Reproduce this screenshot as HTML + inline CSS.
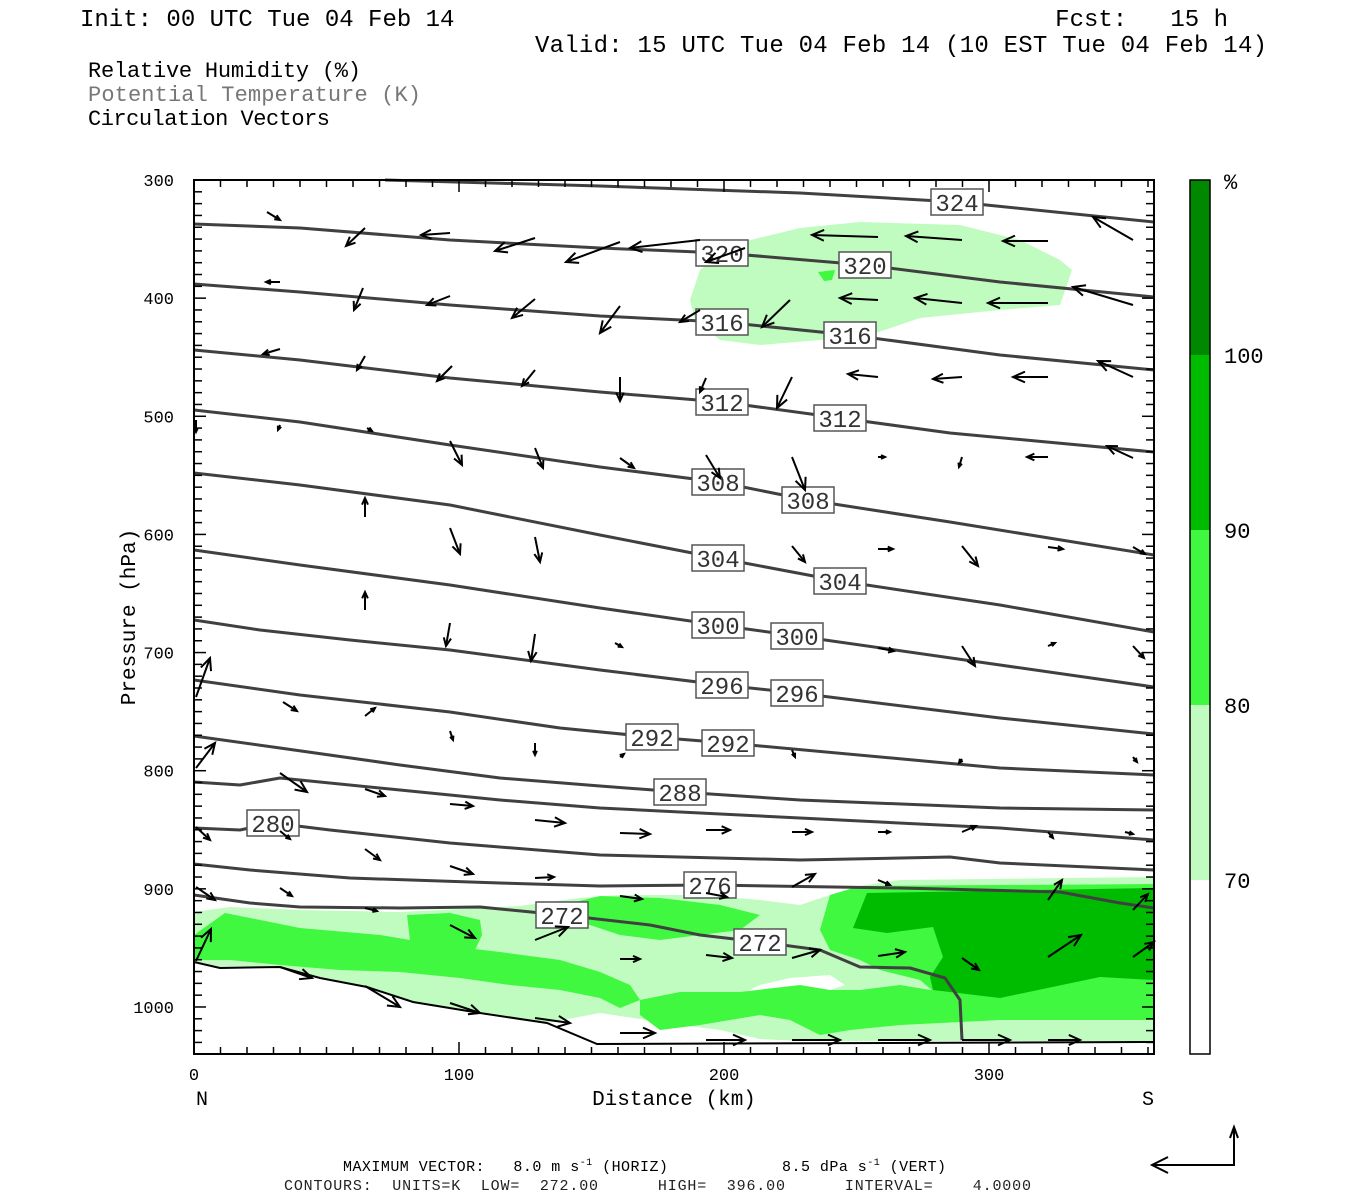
<!DOCTYPE html>
<html><head><meta charset="utf-8"><style>
html,body{margin:0;padding:0;background:#fff}
svg{display:block}
text{font-family:"Liberation Mono",monospace}
</style></head><body>
<svg id="s" width="1350" height="1200" viewBox="0 0 1350 1200" xmlns="http://www.w3.org/2000/svg">
<rect width="1350" height="1200" fill="#fff"/>
<text x="80" y="26" font-size="24" fill="#000">Init: 00 UTC Tue 04 Feb 14</text>
<text x="1228" y="26" font-size="24" fill="#000" text-anchor="end" xml:space="preserve">Fcst:   15 h</text>
<text x="535" y="52" font-size="24" fill="#000" textLength="732">Valid: 15 UTC Tue 04 Feb 14 (10 EST Tue 04 Feb 14)</text>
<text x="88" y="77" font-size="22" fill="#000" textLength="273">Relative Humidity (%)</text>
<text x="88" y="101" font-size="22" fill="#777" textLength="333">Potential Temperature (K)</text>
<text x="88" y="125" font-size="22" fill="#000" textLength="242">Circulation Vectors</text>

<g id="shade">
<polygon fill="#c0fcc0" points="690,300 700,270 730,245 800,228 860,222 960,225 1020,240 1060,260 1072,270 1060,305 1000,310 920,318 870,335 820,340 760,345 720,340 695,320"/>
<polygon fill="#40f840" points="818,272 835,270 832,280 824,281"/>
<polygon fill="#c0fcc0" points="194,912 230,907 300,910 400,912 480,908 520,906 580,898 620,895 700,895 760,900 800,905 830,895 860,886 900,880 1154,877 1154,1041 800,1041 760,1039 720,1030 660,1022 600,1013 547,1023 480,1012 413,1001 367,986 320,977 280,966 220,967 194,961"/>
<polygon fill="#fff" points="760,985 790,978 830,975 845,985 830,990 820,1005 800,1000 775,995 745,992"/>
<polygon fill="#40f840" points="194,935 225,913 250,918 300,928 380,935 440,945 500,952 560,960 600,972 630,985 640,1000 620,1008 600,998 560,990 510,985 460,978 400,972 340,970 280,965 230,960 194,960"/>
<polygon fill="#40f840" points="407,915 450,913 480,920 482,935 475,950 440,950 410,940"/>
<polygon fill="#40f840" points="563,905 600,896 660,898 720,905 760,915 740,930 700,935 660,940 620,935 590,925 563,915"/>
<polygon fill="#40f840" points="640,1000 680,992 740,992 800,985 830,990 860,990 900,985 930,990 1000,995 1154,995 1154,1020 1000,1020 900,1025 850,1030 820,1035 790,1020 760,1015 700,1025 660,1030 640,1015"/>
<polygon fill="#40f840" points="830,895 860,886 1154,884 1154,1000 1000,1000 940,997 920,980 880,970 860,960 830,950 820,930"/>
<polygon fill="#00bc00" points="867,893 1154,888 1154,980 1100,977 1000,998 933,990 930,977 943,957 933,927 887,933 853,928"/>
</g>

<g fill="none" stroke="#404040" stroke-width="3" stroke-linejoin="round">
<polyline points="385,180 600,186 800,193 957,202 1154,222"/>
<polyline points="194,224 300,228 450,240 600,248 722,253 865,265 1000,282 1154,297"/>
<polyline points="194,284 300,292 450,305 600,316 722,322 850,335 1000,355 1154,370"/>
<polyline points="194,350 300,360 450,378 600,392 722,402 840,418 950,433 1154,452"/>
<polyline points="194,410 300,422 450,445 600,467 718,482 808,500 950,522 1154,555"/>
<polyline points="194,473 300,485 450,505 600,535 718,558 840,581 1000,605 1154,632"/>
<polyline points="194,550 300,565 450,585 600,608 718,625 797,636 1000,665 1154,687"/>
<polyline points="194,620 260,630 350,640 450,650 600,670 722,685 797,693 1000,718 1154,734"/>
<polyline points="194,680 300,695 450,712 560,728 652,737 728,743 1000,768 1154,775"/>
<polyline points="194,736 280,748 400,765 500,778 600,786 680,792 800,800 1000,808 1154,810"/>
<polyline points="194,782 240,785 280,778 400,790 500,800 600,808 800,818 1000,828 1154,840"/>
<polyline points="194,828 240,830 273,823 330,830 450,843 600,855 800,860 950,857 1000,863 1154,870"/>
<polyline points="194,864 250,870 350,878 500,883 600,886 710,885 900,888 1060,892 1120,903 1154,908"/>
<polyline points="194,895 250,903 300,907 400,908 480,907 562,915 650,925 700,935 760,942 820,950 860,967 910,968 945,978 960,1000 962,1040"/>
</g>
<polyline fill="none" stroke="#000" stroke-width="2" points="194,962 220,968 280,967 320,978 367,987 413,1002 480,1013 547,1023 597,1044 1154,1042"/>

<g id="labels" font-size="24" fill="#333" text-anchor="middle"></g>
<g id="arrows" stroke="#000" stroke-width="2" fill="none"></g>

<rect x="194" y="180" width="960" height="874" fill="none" stroke="#000" stroke-width="2"/>
<g id="ticks" stroke="#000" stroke-width="1.5"></g>
<g font-size="17" fill="#000" text-anchor="end" id="ylab"></g>
<g font-size="17" fill="#000" text-anchor="middle">
<text x="194" y="1080">0</text><text x="459" y="1080">100</text><text x="724" y="1080">200</text><text x="989" y="1080">300</text>
</g>
<text x="202" y="1105" font-size="20" text-anchor="middle">N</text>
<text x="1148" y="1105" font-size="20" text-anchor="middle">S</text>
<text x="674" y="1105" font-size="21" text-anchor="middle">Distance (km)</text>
<text x="0" y="0" font-size="21" text-anchor="middle" transform="translate(135,617) rotate(-90)">Pressure (hPa)</text>

<rect x="1190" y="180" width="20" height="175" fill="#008800"/>
<rect x="1190" y="355" width="20" height="175" fill="#00bc00"/>
<rect x="1190" y="530" width="20" height="175" fill="#40f840"/>
<rect x="1190" y="705" width="20" height="175" fill="#c0fcc0"/>
<rect x="1190" y="180" width="20" height="874" fill="none" stroke="#000" stroke-width="1.5"/>
<g font-size="22" fill="#000">
<text x="1224" y="189">%</text><text x="1224" y="363">100</text><text x="1224" y="538">90</text><text x="1224" y="713">80</text><text x="1224" y="888">70</text>
</g>

<text x="343" y="1171" font-family="Liberation Serif" font-size="15" textLength="603" xml:space="preserve">MAXIMUM VECTOR:   8.0 m s<tspan dy="-6" font-size="10">-1</tspan><tspan dy="6"> (HORIZ)            8.5 dPa s</tspan><tspan dy="-6" font-size="10">-1</tspan><tspan dy="6"> (VERT)</tspan></text>
<text x="284" y="1190" font-family="Liberation Serif" font-size="15" fill="#222" textLength="747" xml:space="preserve">CONTOURS:  UNITS=K  LOW=  272.00      HIGH=  396.00      INTERVAL=    4.0000</text>
<g stroke="#000" stroke-width="2" fill="none">
<polyline points="1234,1127 1234,1165 1152,1165"/>
<polyline points="1168,1157 1152,1165 1168,1173"/>
<polyline points="1230,1138 1234,1127 1238,1138"/>
</g>
</svg>
<script>
var NS="http://www.w3.org/2000/svg";
function el(p,t,a,txt){var e=document.createElementNS(NS,t);for(var k in a)e.setAttribute(k,a[k]);if(txt)e.textContent=txt;p.appendChild(e);return e;}
var T=document.getElementById("ticks");
for(var p=300;p<=1040;p+=10){var y=180+(p-300)*1.1814;var L=(p%100==0)?12:8;
el(T,"line",{x1:194,y1:y,x2:194+L,y2:y});el(T,"line",{x1:1154,y1:y,x2:1154-L,y2:y});}
for(var d=0;d<=362;d+=10){var x=194+d*2.65;var L=(d%100==0)?12:7;
el(T,"line",{x1:x,y1:1054,x2:x,y2:1054-L});el(T,"line",{x1:x,y1:180,x2:x,y2:180+L});}
var YL=document.getElementById("ylab");
for(var p=300;p<=1000;p+=100){el(YL,"text",{x:174,y:180+(p-300)*1.1814+6},String(p));}
var labs=[[324,957,202],[320,722,253],[320,865,265],[316,722,322],[316,850,335],[312,722,402],[312,840,418],[308,718,482],[308,808,500],[304,718,558],[304,840,581],[300,718,625],[300,797,636],[296,722,685],[296,797,693],[292,652,737],[292,728,743],[288,680,792],[280,273,823],[276,710,885],[272,562,915],[272,760,942]];
var LG=document.getElementById("labels");
labs.forEach(function(l){el(LG,"rect",{x:l[1]-26,y:l[2]-13,width:52,height:26,fill:"#fff",stroke:"#555","stroke-width":1.5});
el(LG,"text",{x:l[1],y:l[2]+9},String(l[0]));});
var A=[[267,212,280,220],[365,228,346,246],[450,233,421,235],[535,238,495,251],[620,242,566,262],[700,240,630,248],[745,248,706,262],[878,237,812,235],[962,240,906,236],[1048,241,1003,241],[1133,240,1093,217],
[280,282,266,282],[363,288,354,310],[450,296,427,305],[535,299,512,318],[620,306,600,333],[700,310,680,322],[790,300,762,327],[878,300,840,298],[962,303,915,298],[1048,303,988,303],[1133,305,1073,287],
[280,349,263,354],[365,356,357,370],[452,366,437,381],[535,370,522,386],[620,377,620,401],[706,378,700,392],[792,377,777,408],[878,377,848,374],[962,377,933,379],[1048,377,1013,377],[1133,377,1098,361],
[280,425,278,430],[367,428,372,431],[450,441,462,465],[535,448,543,468],[620,458,634,468],[706,455,720,478],[792,457,805,490],[878,457,885,457],[962,457,959,467],[1048,457,1027,457],[1133,458,1107,446],[196,420,196,432],
[365,517,365,498],[450,528,460,554],[535,537,540,562],[792,546,805,562],[878,549,893,549],[962,546,978,566],[1048,547,1063,549],[1133,547,1145,554],
[365,610,365,592],[450,623,446,646],[535,634,531,661],[615,643,622,647],[878,648,894,651],[962,646,975,666],[1048,646,1055,643],[1133,646,1144,658],
[196,697,210,658],[283,702,297,711],[365,716,375,708],[450,731,453,740],[535,743,535,755],[620,757,624,754],[792,750,795,757],[962,759,959,763],[1133,757,1137,762],
[196,768,215,743],[280,773,307,792],[365,789,385,796],[450,804,473,806],[535,820,565,823],[620,833,650,834],[706,830,730,830],[792,832,812,832],[878,832,890,832],[962,832,976,826],[1048,832,1053,838],[1125,832,1133,834],
[196,827,210,840],[280,831,290,839],[365,849,380,860],[450,866,473,874],[535,878,554,877],[620,896,642,899],[706,893,727,897],[792,887,815,874],[878,880,890,885],[1048,900,1062,880],[1133,910,1148,894],
[196,887,215,900],[280,888,292,896],[365,908,377,911],[450,925,475,938],[535,940,568,927],[620,959,640,959],[706,955,732,958],[792,958,820,950],[878,956,905,952],[962,958,979,970],[1048,957,1081,935],[1133,957,1154,942],
[196,961,211,929],[280,967,312,978],[365,986,400,1007],[450,1003,480,1013],[535,1018,570,1023],[620,1033,655,1033],[706,1040,745,1040],[792,1040,840,1040],[878,1040,930,1040],[962,1040,1010,1040],[1048,1040,1080,1040]];
var AG=document.getElementById("arrows");
A.forEach(function(a){var dx=a[2]-a[0],dy=a[3]-a[1],len=Math.sqrt(dx*dx+dy*dy);if(len<1)return;
var ux=dx/len,uy=dy/len,h=Math.min(12,Math.max(4,len*0.35)),w=h*0.45;
el(AG,"line",{x1:a[0],y1:a[1],x2:a[2],y2:a[3]});
var bx=a[2]-ux*h,by=a[3]-uy*h;
el(AG,"polyline",{points:(bx-uy*w)+","+(by+ux*w)+" "+a[2]+","+a[3]+" "+(bx+uy*w)+","+(by-ux*w)});});
</script>
</body></html>
